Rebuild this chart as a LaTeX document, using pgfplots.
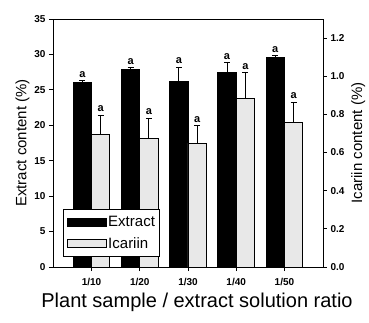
\documentclass[border=0pt]{standalone}
\usepackage{pgfplots}
\pgfplotsset{compat=1.18}
\usepackage{fontspec}
\setmainfont{Liberation Sans}
\pgfplotsset{
  legbox/.style={legend image code/.code={\draw[##1] (0pt,-4pt) rectangle (39pt,4pt);}},
  common/.style={
    at={(0,0)}, anchor=south west,
    scale only axis, width=270pt, height=248pt,
    xmin=0.2, xmax=5.8,
    ybar,
    tick align=outside,
    major tick length=4pt,
    axis line style={line width=0.9pt},
    every tick/.style={line width=0.9pt, black},
    /pgf/number format/assume math mode=true,
    ticklabel style={font=\fontsize{10}{12}\selectfont\bfseries},
  },
  alab/.style={every node near coord/.style={anchor=south, inner sep=1pt, yshift=2pt, font=\fontsize{11}{12}\selectfont\bfseries}},
}
\begin{document}
\begin{tikzpicture}
\useasboundingbox (-53pt,-55pt) rectangle (316pt,267pt);
\begin{axis}[common,
  ymin=0, ymax=35, ytick={0,5,...,35},
  xtick={1,...,5}, xticklabels={1/10,1/20,1/30,1/40,1/50},
  xtick pos=bottom, ytick pos=left,
  xticklabel style={yshift=-4pt},
  ylabel={Extract content (\%)},
  ylabel style={font=\fontsize{15}{18}\selectfont, yshift=-2pt},
  xlabel={Plant sample / extract solution ratio},
  xlabel style={font=\fontsize{20}{24}\selectfont, xshift=9pt, yshift=0pt},
]
\addplot[fill=black, draw=black, line width=0.8pt, bar width=0.38, bar shift=-0.19,
  error bars/.cd, y dir=plus, y explicit,
  error bar style={line width=0.9pt, black},
  error mark options={rotate=90, mark size=3pt, line width=0.9pt, black}]
  coordinates {(1,26.1) +- (0,0.2) (2,27.9) +- (0,0.2) (3,26.2) +- (0,2.0) (4,27.4) +- (0,1.4) (5,29.6) +- (0,0.2)};
\addplot[draw=none, sharp plot, forget plot, nodes near coords={a}, alab]
  coordinates {(0.81,26.3) (1.81,28.1) (2.81,28.2) (3.81,28.8) (4.81,29.8)};
\end{axis}
\begin{axis}[common,
  ymin=0, ymax=1.3, ytick={0,0.2,...,1.2},
  axis y line*=right, axis x line=none,
  yticklabel style={/pgf/number format/.cd, fixed, fixed zerofill, precision=1},
  ylabel={Icariin content (\%)},
  ylabel style={font=\fontsize{15}{18}\selectfont},
  legend style={at={(0.037,0.04)}, anchor=south west, draw=black, line width=0.9pt,
    font=\fontsize{15}{17}\selectfont, row sep=5pt, inner xsep=4pt, inner ysep=5pt,
    nodes={inner xsep=1pt}},
  legend cell align=left,
]
\addlegendimage{fill=black, draw=black, line width=0.8pt, legbox}
\addlegendentry{Extract}
\addplot[fill=gray!18, draw=black, line width=0.8pt, bar width=0.38, bar shift=0.19, legbox,
  error bars/.cd, y dir=plus, y explicit,
  error bar style={line width=0.9pt, black},
  error mark options={rotate=90, mark size=3pt, line width=0.9pt, black}]
  coordinates {(1,0.696) +- (0,0.10) (2,0.675) +- (0,0.105) (3,0.65) +- (0,0.09) (4,0.885) +- (0,0.135) (5,0.76) +- (0,0.104)};
\addlegendentry{Icariin}
\addplot[draw=none, sharp plot, forget plot, nodes near coords={a}, alab]
  coordinates {(1.19,0.796) (2.19,0.78) (3.19,0.74) (4.19,1.02) (5.19,0.864)};
\end{axis}
\end{tikzpicture}
\end{document}
